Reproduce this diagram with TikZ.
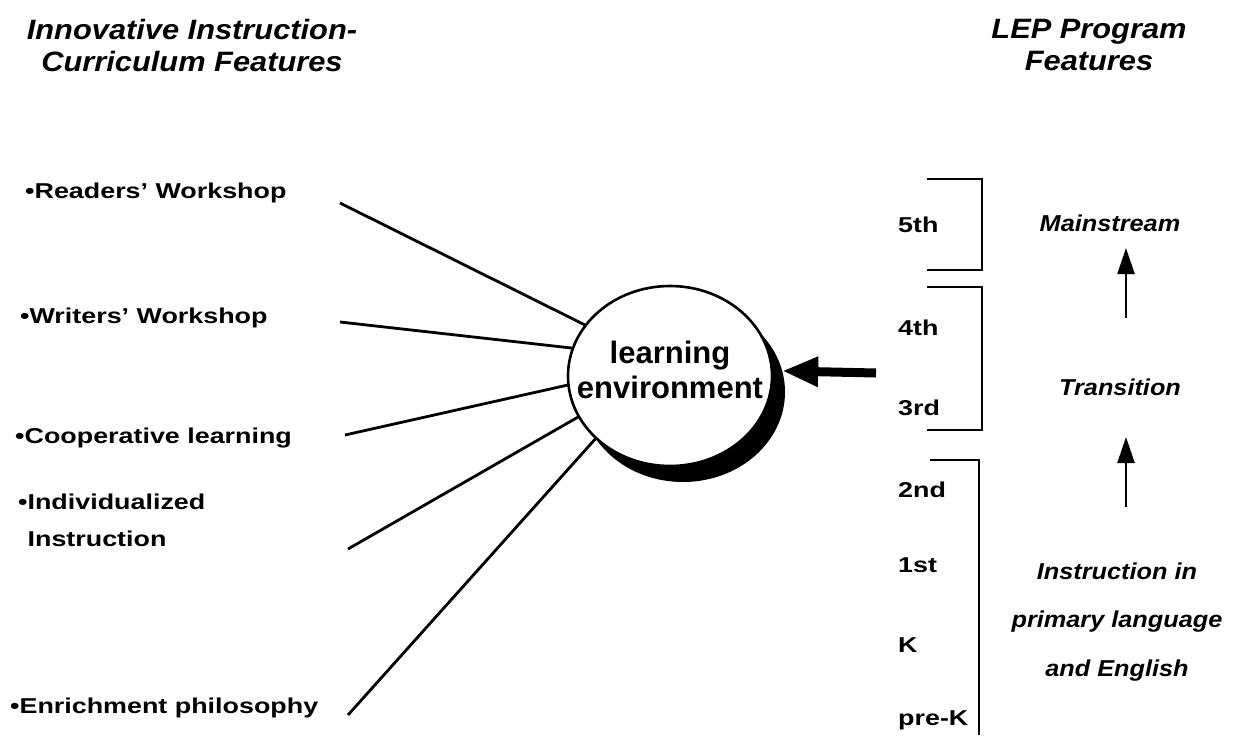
\documentclass[tikz,border=0pt]{standalone}
\usepackage{fontspec}
\setmainfont{Liberation Sans}
\newfontfamily\itemfont{Liberation Sans}[FakeStretch=1.25]
\newfontfamily\headfont{Liberation Sans}[FakeStretch=1.1]
\usetikzlibrary{shapes.geometric,arrows.meta}
\begin{document}
\begin{tikzpicture}[x=1pt,y=-1pt,
  itemtext/.style={anchor=base west,inner sep=0pt,align=left,font=\itemfont\bfseries\fontsize{21.5}{37}\selectfont},
  gradetext/.style={anchor=base west,inner sep=0pt,font=\itemfont\bfseries\fontsize{21.5}{24}\selectfont},
  headtext/.style={inner sep=0pt,align=center,font=\headfont\bfseries\itshape\fontsize{28}{32}\selectfont},
  stagetext/.style={inner sep=0pt,align=center,font=\headfont\bfseries\itshape\fontsize{23}{48.5}\selectfont},
  spoke/.style={line width=2.8pt},
  bracketline/.style={line width=2.2pt},
  stagearrow/.style={line width=2.4pt,-{Triangle[length=26pt,width=17pt]}},
  envshape/.style={ellipse,minimum width=204pt,minimum height=180pt,inner sep=0pt,outer sep=0pt}
]
\useasboundingbox[fill=white] (0,0) rectangle (1248,741);

% headings
\node[headtext] (lefthead) at (192,45) {Innovative Instruction-\\Curriculum Features};
\node[headtext] (righthead) at (1089,45) {LEP Program\\Features};

% left items
\node[itemtext] (readers) at (25,198) {\textbullet Readers’ Workshop};
\node[itemtext] (writers) at (20,323) {\textbullet Writers’ Workshop};
\node[itemtext] (coop) at (15,443) {\textbullet Cooperative learning};
\node[itemtext] (indiv) at (18,546) {\textbullet Individualized\\\phantom{\textbullet}Instruction};
\node[itemtext] (enrich) at (10,713) {\textbullet Enrichment philosophy};

% learning environment circle with shadow
\node[envshape,fill=black] (envshadow) at (683,392) {};
\node[envshape,draw,line width=2.6pt,fill=white] (env) at (670,376) {};
\node[inner sep=0pt,align=center,font=\bfseries\fontsize{31}{35}\selectfont] (envlabel) at (670,370) {learning\\environment};

% spokes
\coordinate (s1) at (340,203);
\coordinate (s2) at (340,322);
\coordinate (s3) at (345,435);
\coordinate (s4) at (348,549);
\coordinate (s5) at (348,715);
\draw[spoke] (s1) -- (env.149);
\draw[spoke] (s2) -- (env.164);
\draw[spoke] (s3) -- (env.185);
\draw[spoke] (s4) -- (env.204);
\draw[spoke] (s5) -- (env.220);

% big arrow
\coordinate (lepin) at (876,373);
\draw[line width=9pt,-{Triangle[length=36pt,width=28pt]}] (lepin) -- (envshadow.12);

% brackets
\draw[bracketline] (927,179) -- (982,179) -- (982,270) -- (927,270);
\draw[bracketline] (927,287) -- (982,287) -- (982,430) -- (927,430);
\draw[bracketline] (930,460) -- (979,460) -- (979,735);

% grades
\node[gradetext] (g5) at (898,232) {5th};
\node[gradetext] (g4) at (898,335) {4th};
\node[gradetext] (g3) at (898,415) {3rd};
\node[gradetext] (g2) at (898,497) {2nd};
\node[gradetext] (g1) at (898,572) {1st};
\node[gradetext] (gk) at (898,652) {K};
\node[gradetext] (gpk) at (898,725) {pre-K};

% stages
\node[stagetext] (main) at (1110,223) {Mainstream};
\node[stagetext] (trans) at (1120,387) {Transition};
\node[stagetext] (instr) at (1117,622) {Instruction in\\primary language\\and English};
\coordinate (a1s) at (1126,318);
\coordinate (a1e) at (1126,248);
\coordinate (a2s) at (1126,507);
\coordinate (a2e) at (1126,437);
\draw[stagearrow] (a1s) -- (a1e);
\draw[stagearrow] (a2s) -- (a2e);
\end{tikzpicture}
\end{document}
